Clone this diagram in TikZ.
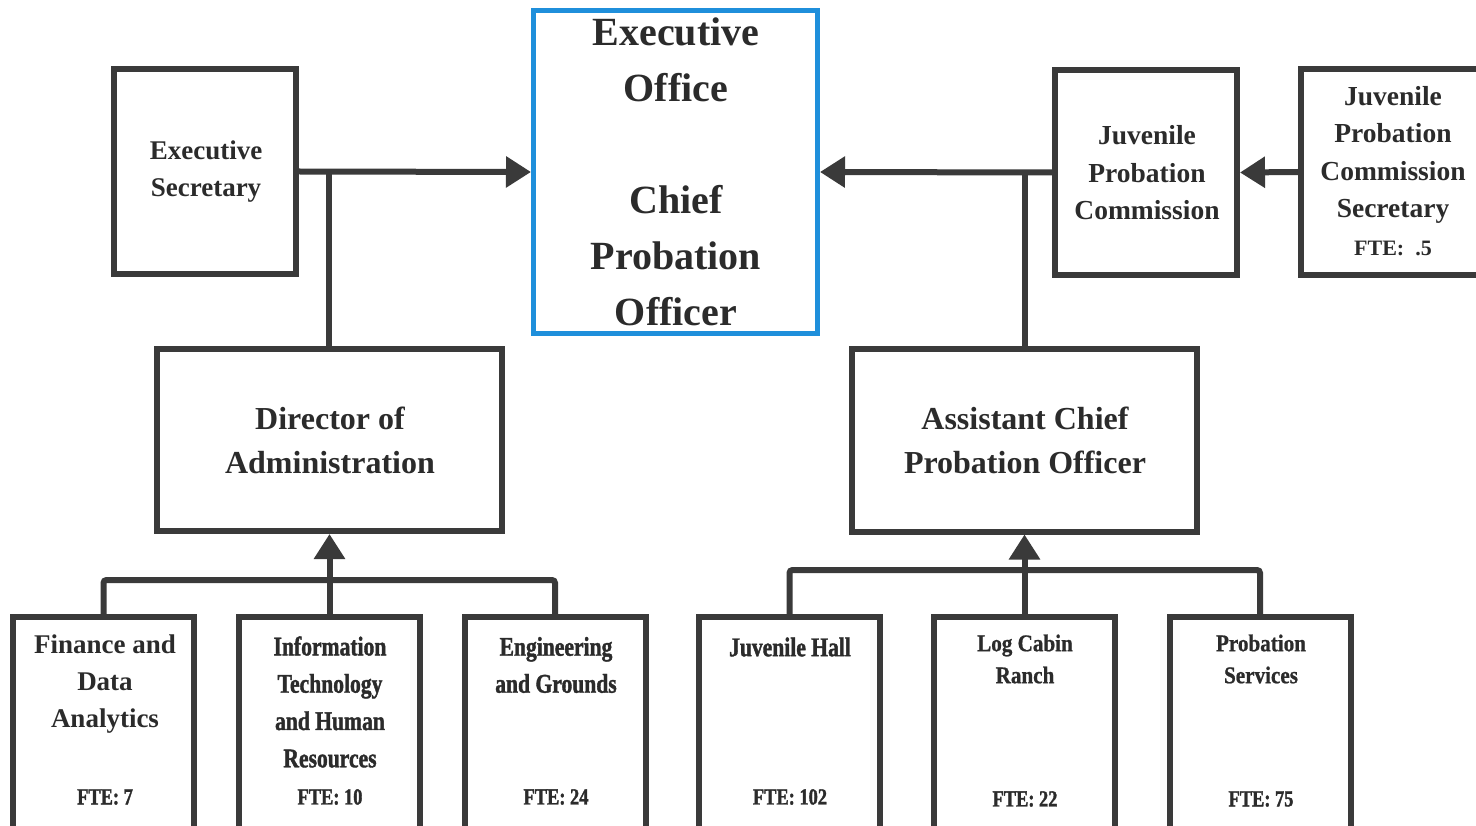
\documentclass[tikz,border=0pt]{standalone}
\usepackage{fontspec}
\setmainfont{Liberation Serif}
\newfontfamily\condbold{Liberation Serif Bold}[FakeStretch=0.8, FakeBold=1.4]
\newfontfamily\condboldb{Liberation Serif Bold}[FakeStretch=0.88, FakeBold=0.8]
\usetikzlibrary{arrows.meta}
\definecolor{lc}{HTML}{3A3A3A}
\definecolor{tc}{HTML}{2B2B2B}
\definecolor{eob}{HTML}{1F8FDB}
\tikzset{
  box/.style={draw=lc, line width=6pt, rectangle, inner sep=0pt},
  conn/.style={draw=lc, line width=6pt, -{Triangle[length=25pt,width=30pt]}},
  wire/.style={draw=lc, line width=6pt, rounded corners=3pt},
  txt/.style={text=tc, align=center, inner sep=0pt, font=\bfseries},
  topbox/.style={box, minimum width=182pt, minimum height=205pt},
  botbox/.style={box, minimum width=181pt, minimum height=220pt},
  midbox/.style={box, minimum width=345pt, minimum height=182pt}
}
\begin{document}
\begin{tikzpicture}[x=1pt,y=-1pt]
\useasboundingbox (0,0) rectangle (1476,826);
\clip (0,0) rectangle (1476,826);
\fill[white] (0,0) rectangle (1476,826);
% boxes
\node[topbox] (ES) at (205,171.5) {};
\node[draw=eob, line width=5pt, rectangle, inner sep=0pt, minimum width=284pt, minimum height=323pt] (EO) at (675.5,172) {};
\node[topbox] (JPC) at (1146,172.5) {};
\node[box, minimum width=186pt, minimum height=206pt] (JPCS) at (1394,172) {};
\node[midbox] (DA) at (329,440) {};
\node[midbox] (ACPO) at (1024.5,440.5) {};
\node[botbox] (FDA) at (103.5,727) {};
\node[botbox] (IT) at (329.5,727) {};
\node[botbox] (ENG) at (555,727) {};
\node[botbox] (JH) at (789.5,727) {};
\node[botbox] (LCR) at (1024.5,727) {};
\node[botbox] (PS) at (1260,727) {};
% texts
\node[txt, font=\bfseries\fontsize{27}{37}\selectfont] (tES) at (206,172) {Executive\\Secretary};
\node[txt, font=\bfseries\fontsize{40}{56}\selectfont] (tEO) at (676,172) {Executive\\Office\\[56pt]Chief\\Probation\\Officer};
\node[txt, font=\bfseries\fontsize{27.5}{37.5}\selectfont] (tJPC) at (1147,173) {Juvenile\\Probation\\Commission};
\node[txt, font=\bfseries\fontsize{27.5}{37.5}\selectfont] (tJPCS) at (1393,155) {Juvenile\\Probation\\Commission\\Secretary};
\node[txt, font=\bfseries\fontsize{22}{26}\selectfont] (fJPCS) at (1393,248) {FTE:\ \ .5};
\node[txt, font=\bfseries\fontsize{32}{44}\selectfont] (tDA) at (330,440) {Director of\\Administration};
\node[txt, font=\bfseries\fontsize{32}{44}\selectfont] (tACPO) at (1025,440) {Assistant Chief\\Probation Officer};
\node[txt, font=\bfseries\fontsize{27}{37}\selectfont] (tFDA) at (105,684) {Finance and\\Data\\Analytics};
\node[txt, font=\condbold\fontsize{27}{37.3}\selectfont] (tIT) at (330,702) {Information\\Technology\\and Human\\Resources};
\node[txt, font=\condbold\fontsize{27}{37}\selectfont] (tENG) at (556,665) {Engineering\\and Grounds};
\node[txt, font=\condbold\fontsize{27}{37}\selectfont] (tJH) at (790,647) {Juvenile Hall};
\node[txt, font=\condboldb\fontsize{24}{32}\selectfont] (tLCR) at (1025,659) {Log Cabin\\Ranch};
\node[txt, font=\condboldb\fontsize{24}{32}\selectfont] (tPS) at (1261,659) {Probation\\Services};
\node[txt, font=\condbold\fontsize{23}{26}\selectfont] (fFDA) at (105,797) {FTE: 7};
\node[txt, font=\condbold\fontsize{23}{26}\selectfont] (fIT) at (330,797) {FTE: 10};
\node[txt, font=\condbold\fontsize{23}{26}\selectfont] (fENG) at (556,797) {FTE: 24};
\node[txt, font=\condbold\fontsize{23}{26}\selectfont] (fJH) at (790,797) {FTE: 102};
\node[txt, font=\condbold\fontsize{23}{26}\selectfont] (fLCR) at (1025,799) {FTE: 22};
\node[txt, font=\condbold\fontsize{23}{26}\selectfont] (fPS) at (1261,799) {FTE: 75};
% connectors
\coordinate (busL) at (0,580);
\coordinate (busR) at (0,570);
\draw[conn] (ES.east) -- (EO.west);
\draw[wire] (DA.north) -- (DA.north |- ES.east);
\draw[conn] (JPC.west) -- (EO.east);
\draw[wire] (ACPO.north) -- (ACPO.north |- JPC.west);
\draw[conn] (JPCS.west) -- (JPC.east);
\draw[wire] (FDA.north) -- (FDA.north |- busL) -- (ENG.north |- busL) -- (ENG.north);
\draw[conn] (IT.north) -- (IT.north |- DA.south);
\draw[wire] (JH.north) -- (JH.north |- busR) -- (PS.north |- busR) -- (PS.north);
\draw[conn] (LCR.north) -- (ACPO.south);
\end{tikzpicture}
\end{document}
